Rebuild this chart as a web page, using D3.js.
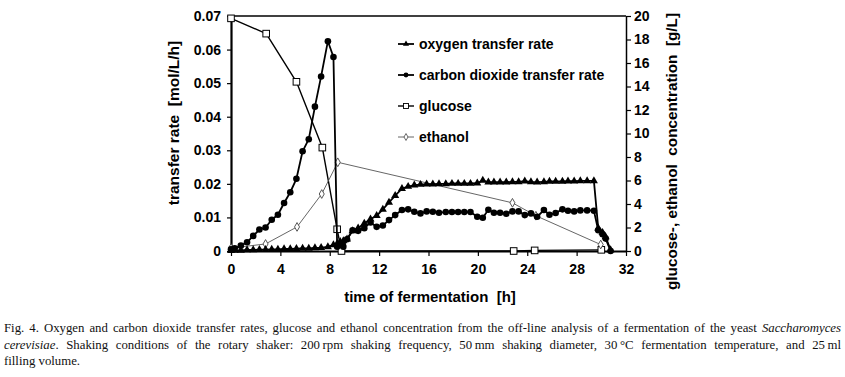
<!DOCTYPE html>
<html>
<head>
<meta charset="utf-8">
<script src="https://cdn.jsdelivr.net/npm/d3@7"></script>
<style>
  body { margin: 0; background: #fff; }
  #wrap { position: relative; width: 845px; height: 377px; overflow: hidden; }
  #chart text { white-space: pre; }
  #caption { position: absolute; left: 4px; top: 320px; width: 837px;
    font-family: "Liberation Serif", "Times New Roman", serif; font-size: 12.8px; line-height: 16.5px; color: #111; }
  #caption div.j { text-align: justify; text-align-last: justify; white-space: nowrap; }
</style>
</head>
<body>
<div id="wrap">
  <svg id="chart" width="845" height="377"></svg>
  <div id="caption">
    <div class="j">Fig. 4. Oxygen and carbon dioxide transfer rates, glucose and ethanol concentration from the off-line analysis of a fermentation of the yeast <i>Saccharomyces</i></div>
    <div class="j"><i>cerevisiae</i>. Shaking conditions of the rotary shaker: 200&#8201;rpm shaking frequency, 50&#8201;mm shaking diameter, 30&#8201;°C fermentation temperature, and 25&#8201;ml</div>
    <div>filling volume.</div>
  </div>
</div>
<script>
// measurement times [h] for the on-line transfer rates
const rateTime = [0, 0.3, 0.8, 1.3, 1.8, 2.3, 2.8, 3.3, 3.8, 4.3, 4.8, 5.3, 5.8, 6.3, 6.8, 7.3, 7.85, 8.3,
  8.6, 8.85, 9.1, 9.4, 9.85, 10.3, 10.8, 11.3, 11.8, 12.3, 12.8, 13.3, 13.85, 14.35, 14.85, 15.35, 15.85,
  16.35, 16.85, 17.4, 17.9, 18.4, 18.9, 19.4, 19.95, 20.4, 20.85, 21.3, 21.8, 22.3, 22.8, 23.3, 23.8,
  24.3, 24.8, 25.35, 25.8, 26.3, 26.85, 27.3, 27.8, 28.3, 28.85, 29.4, 29.75, 30.1, 30.35, 30.75];

// oxygen transfer rate [mol/L/h]
const otr = [0.0001, 0.0002, 0.0002, 0.0003, 0.0003, 0.0004, 0.0004, 0.0005, 0.0005, 0.0006, 0.0006, 0.0007, 0.0008, 0.0008, 0.0009, 0.001, 0.0012, 0.0018,
  0.0022, 0.0028, 0.003, 0.0035, 0.006, 0.0068, 0.0082, 0.0095, 0.0105, 0.0124, 0.0145, 0.0165, 0.0186, 0.0192, 0.0196, 0.0198, 0.0199,
  0.0199, 0.02, 0.02, 0.0201, 0.0201, 0.0201, 0.0201, 0.0202, 0.021, 0.0205, 0.0205, 0.0205, 0.0205, 0.0206, 0.0206, 0.0208,
  0.0206, 0.0205, 0.0206, 0.0207, 0.0207, 0.0207, 0.0208, 0.0208, 0.0209, 0.0209, 0.0209, 0.0068, 0.0055, 0.0042, 0.0003];

// carbon dioxide transfer rate [mol/L/h]
const ctr = [0.0005, 0.0008, 0.0016, 0.0026, 0.0045, 0.0064, 0.007, 0.0093, 0.0108, 0.0143, 0.0175, 0.0215, 0.0297, 0.0333, 0.043, 0.052, 0.0625, 0.0578,
  0.0013, 0.0022, 0.0013, 0.0035, 0.0062, 0.006, 0.0068, 0.0085, 0.0072, 0.0076, 0.0092, 0.0107, 0.0122, 0.0124, 0.0117, 0.0112, 0.0118,
  0.0117, 0.0114, 0.0116, 0.0116, 0.0116, 0.0116, 0.0116, 0.0102, 0.0099, 0.0123, 0.0114, 0.0114, 0.0111, 0.0118, 0.0118, 0.0107,
  0.0112, 0.0102, 0.0122, 0.0108, 0.0113, 0.0124, 0.012, 0.0118, 0.0121, 0.0121, 0.012, 0.0062, 0.005, 0.0037, 0.0];

// off-line samples [h] and concentrations [g/L]
const glucoseTime = [0, 2.85, 5.3, 7.4, 8.6, 8.95, 22.9, 24.6, 30.0];
const glucose = [19.8, 18.5, 14.4, 8.8, 1.85, 0, 0, 0.05, 0.1];
const ethanolTime = [0, 2.8, 5.35, 7.35, 8.65, 22.8, 24.7, 29.95];
const ethanol = [0.25, 0.6, 2.05, 4.85, 7.55, 4.1, 3.0, 0.55];

const xTicks = d3.range(0, 33, 4);
const yLeftTicks = [0, 0.01, 0.02, 0.03, 0.04, 0.05, 0.06, 0.07];
const yRightTicks = d3.range(0, 21, 2);

const legendLabels = ["oxygen transfer rate", "carbon dioxide transfer rate", "glucose", "ethanol"];

const font = "'Liberation Sans', Arial, Helvetica, sans-serif";

const svg = d3.select("#chart")
  .attr("font-family", font)
  .attr("font-weight", "bold");

const x = d3.scaleLinear().domain([0, 32]).range([231, 626]);
const yL = d3.scaleLinear().domain([0, 0.07]).range([251, 16]);
const yR = d3.scaleLinear().domain([0, 20]).range([251, 16]);

// frame top line
svg.append("line")
  .attr("x1", x(0)).attr("x2", x(32))
  .attr("y1", yL(0.07)).attr("y2", yL(0.07))
  .attr("stroke", "#000").attr("stroke-width", 1.5);

// axes
const styleAxis = (g, w) => {
  g.select(".domain").attr("stroke-width", w);
  g.selectAll(".tick line").attr("stroke-width", 1.2);
  g.selectAll(".tick text").attr("font-size", 14).attr("font-family", font).attr("font-weight", "bold").attr("fill", "#000");
};

svg.append("g")
  .attr("transform", `translate(${x(0)},0)`)
  .call(d3.axisLeft(yL).tickValues(yLeftTicks).tickSizeInner(4).tickSizeOuter(0).tickPadding(6)
    .tickFormat(d => d === 0 ? "0" : d3.format(".2f")(d)))
  .call(g => styleAxis(g, 2.2));

svg.append("g")
  .attr("transform", `translate(${x(32)},0)`)
  .call(d3.axisRight(yR).tickValues(yRightTicks).tickSizeInner(5).tickSizeOuter(0).tickPadding(3))
  .call(g => styleAxis(g, 1.5));

svg.append("g")
  .attr("transform", `translate(0,${yL(0)})`)
  .call(d3.axisBottom(x).tickValues(xTicks).tickSizeInner(5).tickSizeOuter(0).tickPadding(8))
  .call(g => styleAxis(g, 2.2));

// axis titles
svg.append("text")
  .attr("transform", "translate(179,123) rotate(-90)")
  .attr("text-anchor", "middle")
  .attr("font-size", 15.5)
  .text("transfer rate  [mol/L/h]");

svg.append("text")
  .attr("transform", "translate(677,290) rotate(-90)")
  .attr("text-anchor", "start")
  .attr("font-size", 15.3)
  .text("glucose-, ethanol  concentration  [g/L]");

svg.append("text")
  .attr("x", 430).attr("y", 302)
  .attr("text-anchor", "middle")
  .attr("font-size", 15)
  .text("time of fermentation  [h]");

// series
const series = [
  { name: legendLabels[2], t: glucoseTime, v: glucose, y: yR, stroke: "#000", width: 1.4, marker: "square" },
  { name: legendLabels[3], t: ethanolTime, v: ethanol, y: yR, stroke: "#555", width: 0.9, marker: "diamond" },
  { name: legendLabels[0], t: rateTime, v: otr, y: yL, stroke: "#000", width: 1.8, marker: "triangle" },
  { name: legendLabels[1], t: rateTime, v: ctr, y: yL, stroke: "#000", width: 1.8, marker: "circle" }
];

function drawMarker(g, kind, cx, cy, stroke) {
  if (kind === "square") {
    g.append("rect").attr("x", cx - 3.3).attr("y", cy - 3.3).attr("width", 6.6).attr("height", 6.6)
      .attr("fill", "#fff").attr("stroke", stroke).attr("stroke-width", 1);
  } else if (kind === "diamond") {
    g.append("path").attr("d", d3.symbol(d3.symbolDiamond, 22)())
      .attr("transform", `translate(${cx},${cy})`)
      .attr("fill", "#fff").attr("stroke", stroke).attr("stroke-width", 0.9);
  } else if (kind === "triangle") {
    g.append("path").attr("d", d3.symbol(d3.symbolTriangle, 28)())
      .attr("transform", `translate(${cx},${cy})`)
      .attr("fill", "#000");
  } else {
    g.append("circle").attr("cx", cx).attr("cy", cy).attr("r", 3.3).attr("fill", "#000");
  }
}

series.forEach(s => {
  const pts = s.t.map((t, i) => [x(t), s.y(s.v[i])]);
  svg.append("path")
    .attr("d", d3.line()(pts))
    .attr("fill", "none")
    .attr("stroke", s.stroke)
    .attr("stroke-width", s.width)
    .attr("stroke-linejoin", "round");
  const g = svg.append("g");
  pts.forEach(p => drawMarker(g, s.marker, p[0], p[1], s.marker === "diamond" ? "#444" : "#000"));
});

// legend
const legendOrder = [series[2], series[3], series[0], series[1]];
const legend = svg.append("g").attr("transform", "translate(398,44)");
legendOrder.forEach((s, i) => {
  const row = legend.append("g").attr("transform", `translate(0,${i * 31})`);
  row.append("line").attr("x1", 0).attr("x2", 16).attr("y1", 0).attr("y2", 0)
    .attr("stroke", s.stroke).attr("stroke-width", s.width);
  const gm = row.append("g");
  const m = s.marker;
  if (m === "square") {
    gm.append("rect").attr("x", 5.5).attr("y", -2.5).attr("width", 5).attr("height", 5)
      .attr("fill", "#fff").attr("stroke", "#000").attr("stroke-width", 0.9);
  } else if (m === "diamond") {
    gm.append("path").attr("d", d3.symbol(d3.symbolDiamond, 14)()).attr("transform", "translate(8,0)")
      .attr("fill", "#fff").attr("stroke", "#444").attr("stroke-width", 0.8);
  } else if (m === "triangle") {
    gm.append("path").attr("d", d3.symbol(d3.symbolTriangle, 16)()).attr("transform", "translate(8,0)").attr("fill", "#000");
  } else {
    gm.append("circle").attr("cx", 8).attr("cy", 0).attr("r", 2.4).attr("fill", "#000");
  }
  row.append("text")
    .attr("x", 21).attr("y", 0).attr("dy", "0.35em")
    .attr("font-size", 14)
    .text(s.name);
});
</script>
</body>
</html>
